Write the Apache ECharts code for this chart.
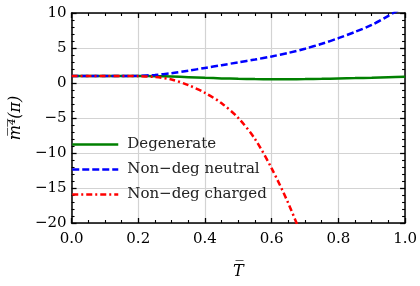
<!DOCTYPE html>
<html><head><meta charset="utf-8">
<script src="https://cdn.jsdelivr.net/npm/echarts@6/dist/echarts.min.js"></script>
<style>html,body{margin:0;padding:0;background:#fff}#c{width:420px;height:286px}</style>
</head><body><div id="c"></div>
<script>
const T = [0,0.05,0.1,0.15,0.2,0.25,0.3,0.35,0.4,0.45,0.5,0.55,0.6,0.65,0.7,0.75,0.8,0.85,0.9,0.95,1.0];
const degenerate = [1,1,1,1,1,0.98,0.92,0.83,0.74,0.66,0.6,0.56,0.54,0.54,0.56,0.6,0.65,0.7,0.76,0.83,0.9];
const nondegNeutral = [1,1,1,1,1.03,1.15,1.4,1.75,2.15,2.55,2.95,3.35,3.8,4.3,4.9,5.6,6.4,7.3,8.3,9.6,11.0];
const nondegCharged = [1,1,1,1,0.98,0.85,0.5,-0.3,-1.4,-2.9,-5.0,-8.0,-12.2,-17.2,-23,null,null,null,null,null,null];
const seriesNames = ['Degenerate','Non\u2212deg neutral','Non\u2212deg charged'];
const xTicks = [0,0.2,0.4,0.6,0.8,1.0];
const yTicks = [-20,-15,-10,-5,0,5,10];

const FONT = 'DejaVu Serif';
const pairs = ys => T.map((t,i) => [t, ys[i]]);
const chart = echarts.init(document.getElementById('c'), null, {renderer:'canvas'});
const minusFmt = v => (Math.abs(v) < 1e-9 ? '0' : String(v)).replace('-', '\u2212');
function axis(kind, pos, minorSplit, extra){
  const base = kind === 'x'
    ? {type:'value', min:xTicks[0], max:xTicks[xTicks.length-1], interval:0.2}
    : {type:'value', min:yTicks[0], max:yTicks[yTicks.length-1], interval:5};
  return Object.assign(base, {
    position:pos,
    axisLine:{show:true, onZero:false, lineStyle:{color:'#000', width:1.5}},
    axisTick:{show:true, inside:true, length:5, lineStyle:{color:'#000', width:1.3}},
    minorTick:{show:true, splitNumber:minorSplit, length:3, lineStyle:{color:'#000', width:1.1}},
    splitLine:{show:false},
    axisLabel:{show:false}
  }, extra);
}
const option = {
  animation:false,
  backgroundColor:'#fff',
  grid:{left:67, right:13, top:13, bottom:63},
  xAxis:[
    axis('x','bottom',4,{
      axisLabel:{show:true, color:'#000', fontFamily:FONT, fontSize:15, margin:9, formatter:v=>v.toFixed(1)},
      splitLine:{show:true, lineStyle:{color:'#d3d3d3', width:1.2}},
      name:'T\u0305', nameLocation:'middle', nameGap:41,
      nameTextStyle:{color:'#000', fontFamily:FONT, fontSize:16, fontStyle:'italic'}
    }),
    axis('x','top',4,{})
  ],
  yAxis:[
    axis('y','left',5,{
      axisLabel:{show:true, color:'#000', fontFamily:FONT, fontSize:15, margin:5, formatter:minusFmt},
      splitLine:{show:true, lineStyle:{color:'#d3d3d3', width:1.2}},
      name:'m\u0305\u2074\u0305(\u03c0)', nameLocation:'middle', nameGap:37, nameRotate:90,
      nameTextStyle:{color:'#000', fontFamily:FONT, fontSize:16, fontStyle:'italic'}
    }),
    axis('y','right',5,{})
  ],
  legend:{
    left:66, top:132, orient:'vertical', itemWidth:46, itemHeight:12, itemGap:10,
    itemStyle:{opacity:0},
    lineStyle:{width:2.5},
    textStyle:{color:'#222', fontFamily:FONT, fontSize:15, padding:[0,0,0,4]},
    data:seriesNames
  },
  series:[
    {name:seriesNames[0], type:'line', data:pairs(degenerate), showSymbol:false, symbol:'none', smooth:0.3,
     lineStyle:{color:'#008000', width:2.5}, itemStyle:{color:'#008000'}, z:3},
    {name:seriesNames[1], type:'line', data:pairs(nondegNeutral), showSymbol:false, symbol:'none', smooth:0.3,
     lineStyle:{color:'#0000ff', width:2.5, type:[7,3]}, itemStyle:{color:'#0000ff'}, z:4},
    {name:seriesNames[2], type:'line', data:pairs(nondegCharged), showSymbol:false, symbol:'none', smooth:0.3,
     lineStyle:{color:'#ff0000', width:2.5, type:[6,3,2,3]}, itemStyle:{color:'#ff0000'}, z:5}
  ]
};
chart.setOption(option);
</script></body></html>
